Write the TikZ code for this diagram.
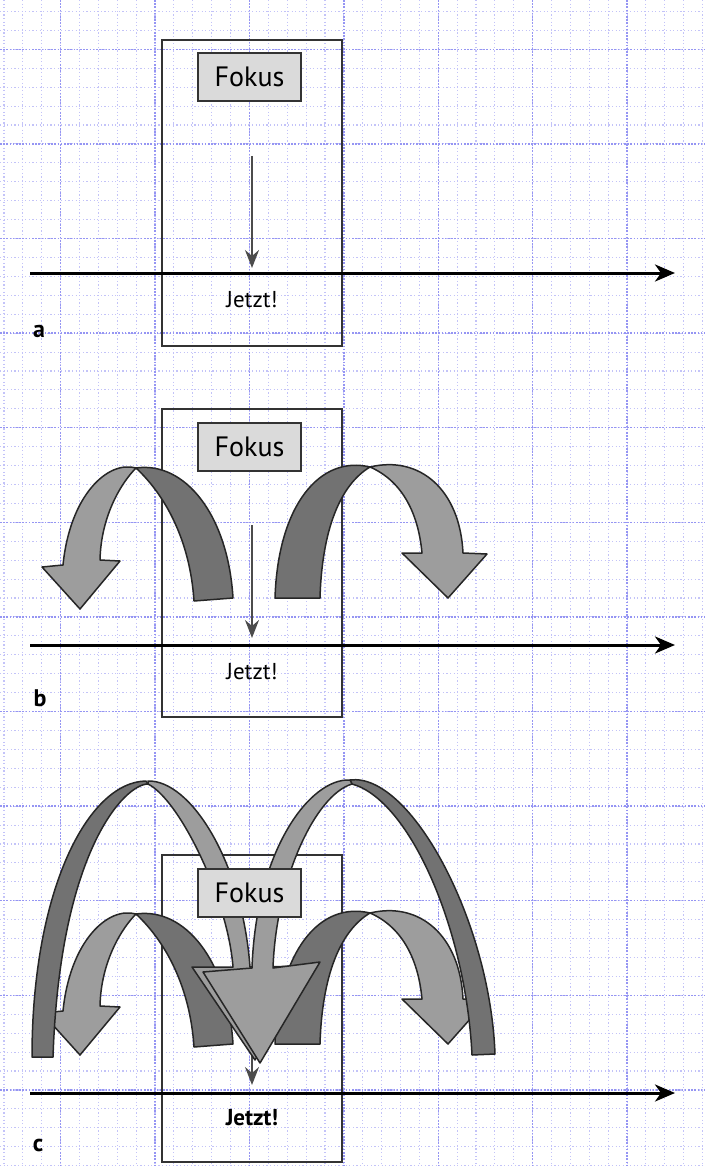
\documentclass[tikz,border=0pt]{standalone}
\usepackage{fontspec}
\setmainfont{PT Sans}
\usetikzlibrary{arrows.meta}

\definecolor{rueck}{HTML}{727272}
\definecolor{vorn}{HTML}{9D9D9D}
\definecolor{kasten}{HTML}{DADADA}
\definecolor{linie}{HTML}{333333}
\definecolor{gitter}{HTML}{7A7AF0}

\begin{document}
\begin{tikzpicture}[x=0.5pt,y=-0.5pt,
  raster/.style={gitter!45, line width=0.55pt, dash pattern=on 0.6pt off 1.2pt},
  hauptraster/.style={gitter!80, line width=0.7pt, dash pattern=on 0.8pt off 0.8pt},
  rahmen/.style={draw=linie, line width=1pt},
  fokus/.style={draw=linie, fill=kasten, line width=1pt, minimum width=51.5pt,
    minimum height=24pt, inner sep=0pt, font=\fontsize{14}{16}\selectfont},
  jetzt/.style={font=\fontsize{11.5}{13}\selectfont},
  teil/.style={font=\fontsize{12}{14}\selectfont\bfseries},
  zeit/.style={line width=1.5pt, -{Stealth[length=10pt,width=8.5pt,inset=3pt]}},
  blick/.style={draw=black!70, line width=1pt, -{Stealth[length=9pt,width=7pt,inset=3pt]}},
  band/.style={draw=black!85, line width=0.75pt, line join=round},
  hinten/.style={band, fill=rueck},
  vorne/.style={band, fill=vorn}]

\useasboundingbox (0,0) rectangle (705,1166);

% raster
\foreach \i in {0,...,37} \draw[raster] ({4+18.88*\i},0) -- ({4+18.88*\i},1166);
\foreach \i in {0,...,61} \draw[raster] (0,{11.5+18.92*\i}) -- (705,{11.5+18.92*\i});
\foreach \i in {0,...,6} \draw[hauptraster] ({60.6+94.4*\i},0) -- ({60.6+94.4*\i},1166);
\foreach \i in {0,...,11} \draw[hauptraster] (0,{49.3+94.6*\i}) -- (705,{49.3+94.6*\i});

% rahmen
\draw[rahmen] (162,40) rectangle (342,346);
\draw[rahmen] (162,409) rectangle (342,717);
\draw[rahmen] (162,855) rectangle (342,1162);

% blick nach unten
\coordinate (blickA) at (252,156);
\coordinate (jetztpA) at (252,268);
\coordinate (blickB) at (252,525);
\coordinate (jetztpB) at (252,638);
\coordinate (blickC) at (252,985);
\coordinate (jetztpC) at (252,1085);
\draw[blick] (blickA) -- (jetztpA);
\draw[blick] (blickB) -- (jetztpB);
\draw[blick] (blickC) -- (jetztpC);

% kleine boegen (b und c)
\foreach \dy in {0,446}{
\begin{scope}[shift={(0,\dy)}]
\draw[hinten] (194,601) .. controls (190,540) and (165,495) .. (136,468)
  .. controls (185,461) and (228,515) .. (233,598) -- cycle;
\draw[vorne] (136,468) .. controls (108,460) and (70,495) .. (63,565) -- (42,567)
  -- (80,609) -- (120,561) -- (100,560) .. controls (101,515) and (122,482) .. (136,468) -- cycle;
\draw[hinten] (275,598) .. controls (278,505) and (320,455) .. (370,467)
  .. controls (340,485) and (322,530) .. (320,598) -- cycle;
\draw[vorne] (370,467) .. controls (420,455) and (460,490) .. (463,553) -- (487,554)
  -- (448,598) -- (402,553) -- (422,553) .. controls (418,510) and (400,480) .. (370,467) -- cycle;
\end{scope}}

% grosse boegen (c)
\draw[hinten] (32,1057) .. controls (32,890) and (88,782) .. (146,781) -- (148,784)
  .. controls (125,784) and (60,850) .. (53,1057) -- cycle;
\draw[vorne] (148,781) .. controls (190,780) and (242,860) .. (250,967) -- (312,966)
  -- (255,1060) -- (192,967) -- (233,967) .. controls (228,900) and (180,800) .. (148,784) -- cycle;
\draw[hinten] (350,780) .. controls (410,772) and (490,920) .. (495,1054) -- (472,1055)
  .. controls (466,930) and (410,800) .. (352,784) -- cycle;
\draw[vorne] (350,780) .. controls (310,778) and (256,850) .. (252,968) -- (203,972)
  -- (260,1063) -- (320,962) -- (273,968) .. controls (276,880) and (315,795) .. (352,784) -- cycle;

% fokus
\node[fokus] (fokusA) at (249.5,77) {Fokus};
\node[fokus] (fokusB) at (249.5,447) {Fokus};
\node[fokus] (fokusC) at (249.5,892.5) {Fokus};

% zeitachsen
\coordinate (startA) at (30,273);
\coordinate (endeA) at (675,273);
\coordinate (startB) at (30,645);
\coordinate (endeB) at (675,645);
\coordinate (startC) at (30,1093);
\coordinate (endeC) at (675,1093);
\draw[zeit] (startA) -- (endeA);
\draw[zeit] (startB) -- (endeB);
\draw[zeit] (startC) -- (endeC);

\node[jetzt] (jetztA) at (252,300) {Jetzt!};
\node[jetzt] (jetztB) at (252,672) {Jetzt!};
\node[jetzt, font=\fontsize{11.5}{13}\selectfont\bfseries] (jetztC) at (252,1118) {Jetzt!};

\node[teil] (teilA) at (39,331) {a};
\node[teil] (teilB) at (40,698) {b};
\node[teil] (teilC) at (38,1145) {c};
\end{tikzpicture}
\end{document}
